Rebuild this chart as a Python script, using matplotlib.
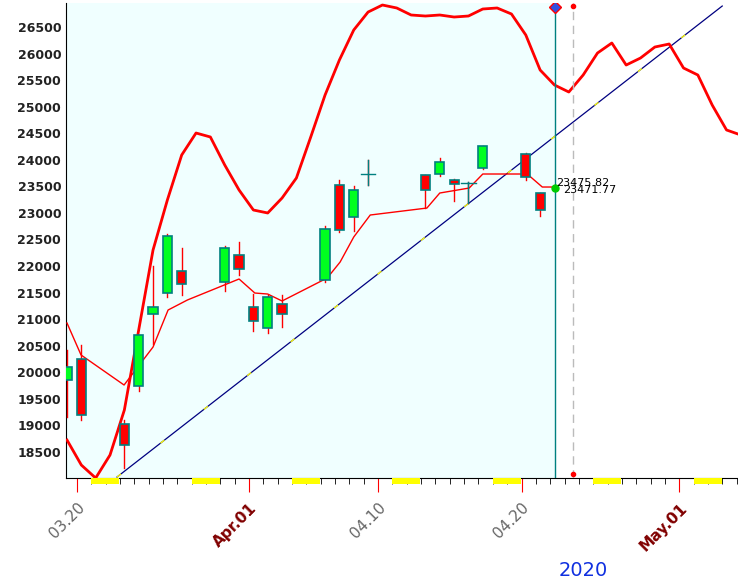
import numpy as np
import matplotlib.pyplot as plt
from matplotlib.patches import Rectangle

# day index: 0 = 2020-03-20
c_day = [-1, 0, 3, 4, 5, 6, 7, 10, 11, 12, 13, 14, 17, 18, 19, 20, 24, 25, 26, 27, 28, 31, 32]
c_open = [19850, 20250, 19020, 19740, 21100, 21500, 21900, 21700, 22200, 21230, 20840, 21290,
          21730, 23530, 22920, 23730, 23713, 23730, 23620, 23560, 23845, 24108, 23374]
c_close = [20100, 19200, 18620, 20700, 21220, 22560, 21670, 22330, 21950, 20970, 21420, 21090,
           22690, 22680, 23440, 23730, 23424, 23958, 23545, 23560, 24260, 23675, 23054]
c_high = [20420, 20520, 19100, 20700, 22000, 22600, 22330, 22370, 22460, 21480, 21460, 21450,
          22760, 23620, 23500, 24000, 23713, 24030, 23640, 23590, 24260, 24120, 23374]
c_low = [19150, 19100, 18200, 19650, 20530, 21420, 21450, 21520, 21830, 20780, 20740, 20860,
         21700, 22640, 22660, 23520, 23090, 23700, 23230, 23190, 23830, 23620, 22940]

upper_day = list(range(-1, 47))
upper_val = [18723, 18252, 18007, 18441, 19288, 20794, 22300, 23242, 24090, 24504, 24429, 23902,
             23431, 23054, 22998, 23280, 23657, 24429, 25220, 25879, 26444, 26782, 26914, 26858,
             26726, 26707, 26726, 26688, 26707, 26839, 26858, 26745, 26349, 25690, 25408, 25276,
             25596, 26010, 26199, 25784, 25916, 26123, 26180, 25728, 25596, 25031, 24561, 24466]

ma_day = [-0.7, 0.28, 3.28, 5.3, 6.35, 7.7, 11.3, 12.4, 13.3, 14.3, 17.45, 18.35, 19.3, 20.45,
          24.4, 25.3, 27.35, 28.3, 31.4, 32.45, 33.36]
ma_val = [20926, 20324, 19759, 20474, 21171, 21360, 21755, 21491, 21472, 21341, 21774, 22075,
          22546, 22960, 23091, 23374, 23468, 23732, 23732, 23487, 23487]

trend_day = [2.79, 45.0]
trend_val = [18027, 26895]

weekends = [1, 8, 15, 22, 29, 36, 43]
tick_days = [0, 12, 21, 31, 42]
tick_labels = ['03.20', 'Apr.01', '04.10', '04.20', 'May.01']
now_day = 33.36
now_labels = ['23475.82', '23471.77']

off = 0.3
fig = plt.figure(figsize=(7.38, 5.81), dpi=100)
ax = fig.add_axes([66/738, 103/581, 672/738, 475/581])
ax.set_xlim(-0.77, 46.1)
ax.set_ylim(18008, 26952)
ax.axvspan(-1, now_day, color='#F0FFFF', zorder=0)

ax.plot(np.array(upper_day) + off, upper_val, color='#FF0000', lw=2, zorder=3)
ax.plot(ma_day, ma_val, color='#FF0000', lw=1, zorder=3)
ax.plot(trend_day, trend_val, color='#000080', lw=0.9, zorder=2)
ax.plot(trend_day, trend_val, color='yellow', lw=0.9, dashes=(4, 40), zorder=2)

for d, o, c, h, l in zip(c_day, c_open, c_close, c_high, c_low):
    x = d + off
    col = '#00FF20' if c >= o else '#FF0000'
    ax.plot([x, x], [l, h], color='#FF0000' if c < o or o == c else '#FF0000', lw=1, zorder=4)
    if o == c:
        ax.plot([x - 0.5, x + 0.5], [o, o], color='#008080', lw=1, zorder=5)
        ax.plot([x, x], [l, h], color='#008080', lw=1, zorder=5)
        continue
    ax.add_patch(Rectangle((x - 0.32, min(o, c)), 0.64, abs(c - o), facecolor=col,
                           edgecolor='#008080', lw=1.2, zorder=5))

ax.axvline(now_day, color='#008080', lw=1, zorder=3)
ax.axvline(now_day + 1.2, color='#BBBBBB', lw=1, dashes=(6, 4), zorder=3)
ax.plot([now_day], [26870], marker='D', color='#3050E0', ms=6, mec='red', zorder=6)
ax.plot([now_day + 1.2], [26900], 'o', color='red', ms=3, zorder=6)
ax.plot([now_day + 1.2], [18080], 'o', color='red', ms=3, zorder=6)
ax.plot([now_day], [23475], 'o', color='#00CC00', ms=5, zorder=6)
ax.text(now_day + 0.05, 23500, now_labels[0], fontsize=8, zorder=7)
ax.text(now_day + 0.55, 23380, now_labels[1], fontsize=8, zorder=7)

ax.set_yticks(np.arange(18500, 26501, 500))
ax.tick_params(axis='y', labelsize=9, length=0)
for lab in ax.get_yticklabels():
    lab.set_fontweight('bold')
    lab.set_color('#222222')
ax.set_xticks(np.arange(-0, 47), minor=True)
ax.set_xticks(tick_days)
ax.set_xticklabels(tick_labels, rotation=45, ha='right', rotation_mode='anchor', fontsize=11)
ax.tick_params(axis='x', which='minor', length=4, color='black')
ax.tick_params(axis='x', which='major', length=10, color='red', pad=6)
for lab in ax.get_xticklabels():
    if lab.get_text().startswith(('Apr', 'May')):
        lab.set_color('#800000')
        lab.set_fontweight('bold')
    else:
        lab.set_color('#666666')
for w in weekends:
    ax.add_patch(Rectangle((w, -0.012), 1.95, 0.012, transform=ax.get_xaxis_transform(),
                           facecolor='yellow', edgecolor='none', clip_on=False, zorder=6))
for s in ['top', 'right']:
    ax.spines[s].set_visible(False)
fig.text(583/738, 1 - 570/581, '2020', color='#1030E0', fontsize=14, ha='center', va='center')
fig.savefig('out.png', dpi=100)
